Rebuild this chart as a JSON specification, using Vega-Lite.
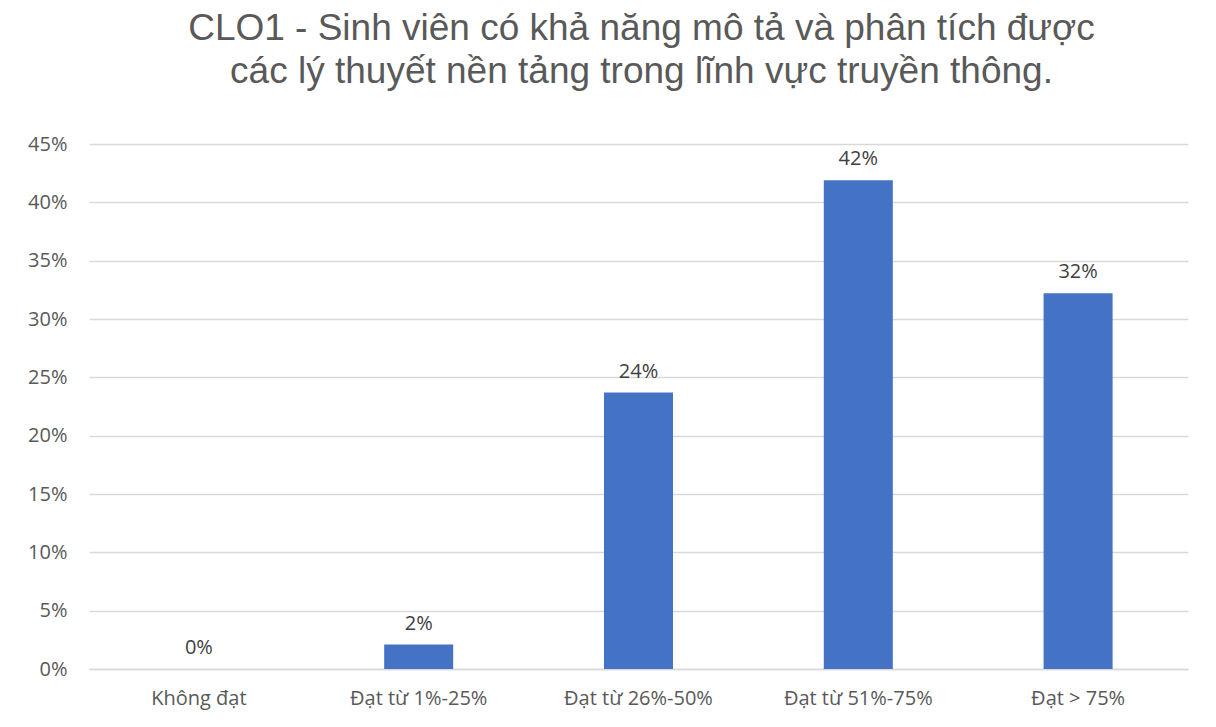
{
  "$schema": "https://vega.github.io/schema/vega-lite/v6.json",
  "width": 1099,
  "height": 525,
  "autosize": {"type": "none"},
  "padding": {"left": 89, "top": 144, "right": 28, "bottom": 58},
  "background": "white",
  "title": {
    "text": ["CLO1 - Sinh viên có khả năng mô tả và phân tích được", "các lý thuyết nền tảng trong lĩnh vực truyền thông."],
    "font": "Liberation Sans",
    "fontSize": 37,
    "fontWeight": "normal",
    "color": "#595959",
    "lineHeight": 43,
    "anchor": "middle",
    "frame": "group",
    "offset": 43,
    "dx": 3
  },
  "data": {
    "values": [
      {"category": "Không đạt", "value": 0.0},
      {"category": "Đạt từ 1%-25%", "value": 0.021},
      {"category": "Đạt từ 26%-50%", "value": 0.237},
      {"category": "Đạt từ 51%-75%", "value": 0.419},
      {"category": "Đạt > 75%", "value": 0.322}
    ]
  },
  "config": {
    "view": {"stroke": null},
    "axis": {
      "labelFont": "Open Sans",
      "labelFontSize": 20,
      "labelColor": "#595959",
      "gridColor": "#d9d9d9",
      "gridWidth": 1.3,
      "domainColor": "#d9d9d9",
      "ticks": false,
      "title": null
    }
  },
  "encoding": {
    "x": {
      "field": "category",
      "type": "nominal",
      "sort": null,
      "scale": {"paddingInner": 0, "paddingOuter": 0},
      "axis": {"labelAngle": 0, "labelPadding": 19, "domainWidth": 1.3, "grid": false}
    },
    "y": {
      "field": "value",
      "type": "quantitative",
      "scale": {"domain": [0, 0.45], "nice": false},
      "axis": {"format": ".0%", "values": [0, 0.05, 0.1, 0.15, 0.2, 0.25, 0.3, 0.35, 0.4, 0.45], "labelPadding": 22, "domain": false, "grid": true}
    }
  },
  "layer": [
    {
      "mark": {"type": "bar", "color": "#4472C4", "width": {"band": 0.314}}
    },
    {
      "mark": {"type": "text", "font": "Open Sans", "fontSize": 20, "color": "#404040", "baseline": "bottom", "dy": -11},
      "encoding": {
        "text": {"field": "value", "type": "quantitative", "format": ".0%"}
      }
    }
  ]
}
